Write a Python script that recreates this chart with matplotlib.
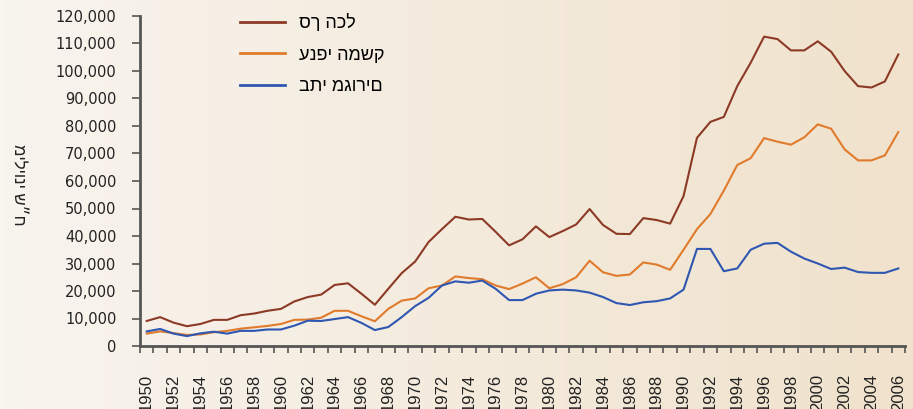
import matplotlib.pyplot as plt
import matplotlib.ticker as mticker
import numpy as np

years = list(range(1950, 2007))

# סך הכל
total = [9100, 10500, 8500, 7200, 8000, 9500, 9500, 11200, 11800, 12800,
         13500, 16200, 17800, 18700, 22200, 22800, 19000, 15000, 20800, 26500,
         30700, 37800, 42500, 47000, 46000, 46200, 41500, 36600, 38800, 43500,
         39600, 41800, 44200, 49800, 44000, 40800, 40700, 46500, 45800, 44500,
         54500, 75700, 81500, 83300, 94500, 103000, 112500, 111600, 107500, 107500,
         110800, 107000, 100000, 94500, 94000, 96200, 106000]
# ענפי המשק
branches = [4500, 5300, 4700, 4000, 4200, 5000, 5500, 6300, 6800, 7300,
            8000, 9500, 9600, 10300, 12800, 12800, 10800, 9000, 13500, 16500,
            17300, 21000, 22000, 25300, 24700, 24300, 22000, 20700, 22700, 25000,
            21000, 22500, 25000, 31000, 26800, 25500, 26000, 30400, 29600, 27700,
            35000, 42500, 48000, 56500, 65800, 68300, 75600, 74300, 73200, 75900,
            80600, 79000, 71500, 67500, 67500, 69300, 77800]
# בתי מגורים
housing = [5300, 6200, 4500, 3600, 4600, 5200, 4500, 5500, 5500, 6000,
           6000, 7400, 9200, 9100, 9800, 10500, 8400, 5800, 6900, 10500,
           14500, 17500, 22000, 23500, 23000, 23800, 20800, 16700, 16700, 19000,
           20200, 20500, 20200, 19400, 17800, 15600, 14900, 15900, 16300, 17300,
           20500, 35300, 35300, 27200, 28200, 35000, 37200, 37500, 34300, 31800,
           30000, 28000, 28500, 26900, 26600, 26600, 28200]

labels = ["סך הכל", "ענפי המשק", "בתי מגורים"]
y_label = "מיליוני ש״ח"

heb_font = ["Liberation Sans", "DejaVu Sans"]

fig = plt.figure(figsize=(9.13, 4.09), dpi=100)

# background gradient
bg = fig.add_axes([0, 0, 1, 1], zorder=-10)
c1 = np.array([248, 244, 238]) / 255
c2 = np.array([240, 226, 204]) / 255
t = np.linspace(0, 1, 256)[None, :, None]
grad = c1 * (1 - t) + c2 * t
bg.imshow(grad, aspect="auto", extent=[0, 1, 0, 1])
bg.axis("off")

ax = fig.add_axes([140 / 913, 63 / 409, 765 / 913, 330 / 409])
ax.patch.set_alpha(0)

x = np.arange(len(years))
ax.plot(x, total, color="#8c3a26", lw=1.5, label=labels[0])
ax.plot(x, branches, color="#e07b2c", lw=1.5, label=labels[1])
ax.plot(x, housing, color="#2f57b2", lw=1.5, label=labels[2])

ax.set_xlim(-0.5, len(years) - 0.5)
ax.set_ylim(0, 120000)
ax.set_yticks(np.arange(0, 120001, 10000))
ax.yaxis.set_major_formatter(mticker.FuncFormatter(lambda v, p: f"{int(v):,}"))

ax.set_xticks(np.arange(-0.5, len(years), 1))
ax.set_xticklabels([])
ax.set_xticks(x[::2], minor=True)
ax.set_xticklabels([str(y) for y in years[::2]], minor=True, rotation=90,
                   fontsize=12, family="Liberation Sans", va="top")
ax.tick_params(axis="x", which="major", length=5, width=1.2, color="#555555", direction="out")
ax.tick_params(axis="x", which="minor", length=0, pad=20, colors="#222222")
ax.tick_params(axis="y", length=6, width=1.2, color="#555555", pad=11,
               labelsize=10.5, labelcolor="#222222")

for s in ["top", "right"]:
    ax.spines[s].set_visible(False)
for s in ["left", "bottom"]:
    ax.spines[s].set_color("#555555")
    ax.spines[s].set_linewidth(2)

fig.text(18 / 913, 1 - 185 / 409, y_label, rotation=270, ha="center", va="center",
         fontsize=12, family=heb_font, color="#222222")

leg = fig.legend(loc="upper left", bbox_to_anchor=(224 / 913, 1 + 2 / 409),
                 frameon=False, handlelength=2.5, handletextpad=0.75,
                 labelspacing=0.8, prop={"family": heb_font, "size": 13})
for line in leg.get_lines():
    line.set_linewidth(2)

fig.savefig("out.png", dpi=100)
